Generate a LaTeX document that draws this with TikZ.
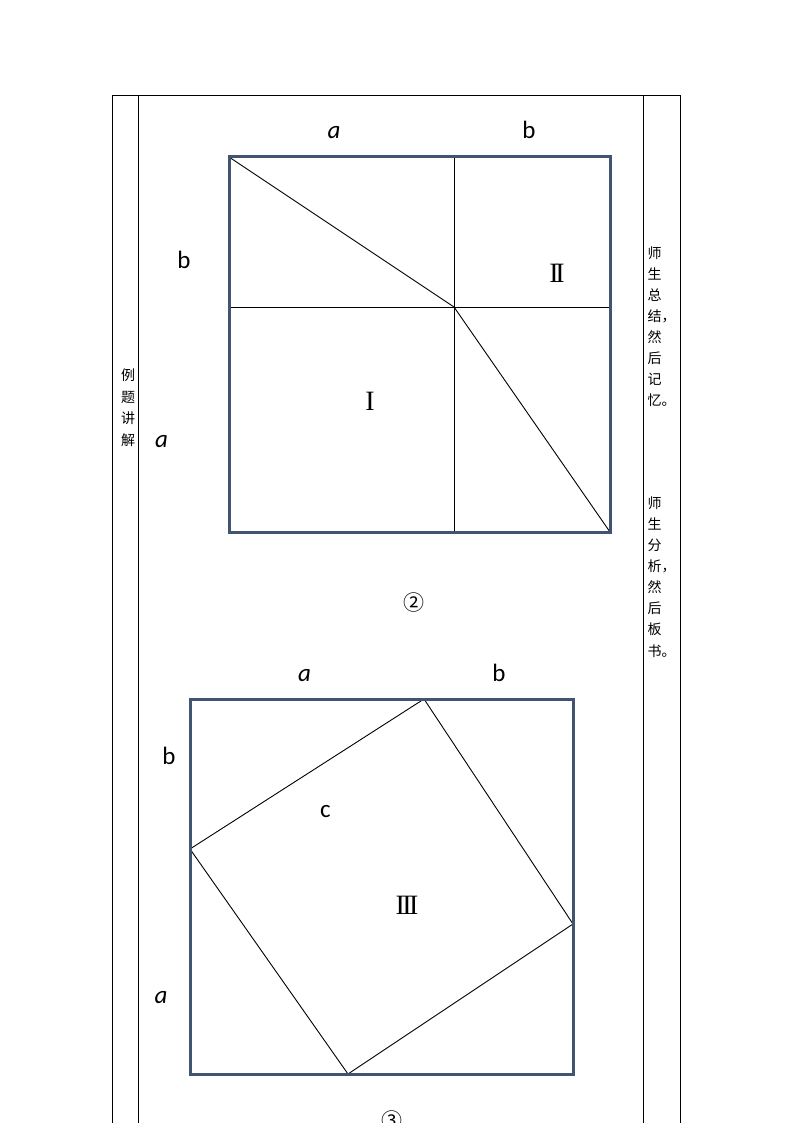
\documentclass[tikz,border=0pt]{standalone}
\usepackage{fontspec}
\setmainfont{Carlito}
\newfontfamily\cjk{Noto Sans CJK SC}
\newfontfamily\serifroman{Liberation Serif}
\definecolor{sqblue}{RGB}{65,84,112}
\tikzset{
  frameline/.style={line width=1pt, black},
  sqframe/.style={line width=3pt, sqblue},
  thinline/.style={line width=0.9pt, black},
  lbl/.style={font=\fontsize{25}{30}\selectfont, inner sep=0pt, anchor=base},
  romanlbl/.style={font=\serifroman\fontsize{28}{30}\selectfont, inner sep=0pt},
  cjkchar/.style={font=\cjk\fontsize{14}{16}\selectfont, inner sep=0pt},
  circnum/.style={font=\cjk\fontsize{21}{24}\selectfont, inner sep=0pt},
}
\begin{document}
\begin{tikzpicture}[x=1pt,y=-1pt]
\useasboundingbox (0,0) rectangle (794,1123);
% table frame
\coordinate (f1b) at (112,1124);
\coordinate (f1t) at (112,96);
\coordinate (f4t) at (680,96);
\coordinate (f4b) at (680,1124);
\coordinate (f2t) at (138.5,96);
\coordinate (f2b) at (138.5,1124);
\coordinate (f3t) at (643,96);
\coordinate (f3b) at (643,1124);
\draw[frameline] (f1b) -- (f1t) -- (f4t) -- (f4b);
\draw[frameline] (f2t) -- (f2b);
\draw[frameline] (f3t) -- (f3b);

% left column text
\foreach \c [count=\i from 0] in {例,题,讲,解}
  \node[cjkchar, anchor=base] (lc\i) at (128,{375+21.7*\i+5.3}) {\c};

% right column texts
\foreach \c [count=\i from 0] in {师,生,总,结，,然,后,记,忆。}
  \node[cjkchar, anchor=base west] (ra\i) at (647.5,{253+21*\i+5.3}) {\c};
\foreach \c [count=\i from 0] in {师,生,分,析，,然,后,板,书。}
  \node[cjkchar, anchor=base west] (rb\i) at (647.5,{503+21.1*\i+5.3}) {\c};

% ---------- figure 2 ----------
\coordinate (A1) at (229,157);
\coordinate (B1) at (610,157);
\coordinate (C1) at (610,532);
\coordinate (D1) at (229,532);
\coordinate (T1) at (454,157);
\coordinate (M1) at (454,532);
\coordinate (L1) at (229,307);
\coordinate (R1) at (610,307);
\coordinate (O1) at (454,307);
\draw[thinline] (T1) -- (M1);
\draw[thinline] (L1) -- (R1);
\draw[thinline] (A1) -- (O1) -- (C1);
\draw[sqframe] (A1) rectangle (C1);

\node[lbl] (a1top) at (334,139) {\textit{a}};
\node[lbl] (b1top) at (529,139) {b};
\node[lbl] (b1left) at (184,268) {b};
\node[lbl] (a1left) at (161.5,447) {\textit{a}};
\node[romanlbl] (r2) at (557,273.5) {I\kern-3.5pt I};
\node[romanlbl] (r1) at (370,401.5) {I};
\node[circnum] (n2) at (414,603) {②};

% ---------- figure 3 ----------
\coordinate (A2) at (190,699);
\coordinate (C2) at (573,1074);
\coordinate (P2) at (424,699);
\coordinate (Q2) at (573,924);
\coordinate (R2) at (348,1074);
\coordinate (S2) at (190,849);
\draw[thinline] (P2) -- (Q2) -- (R2) -- (S2) -- cycle;
\draw[sqframe] (A2) rectangle (C2);

\node[lbl] (a2top) at (304.5,681) {\textit{a}};
\node[lbl] (b2top) at (499,681) {b};
\node[lbl] (b2left) at (169,764) {b};
\node[lbl] (c2) at (325.5,817) {c};
\node[lbl] (a2left) at (161,1003) {\textit{a}};
\node[romanlbl] (r3) at (407,905.5) {I\kern-2.5pt I\kern-2.5pt I};
\node[circnum] (n3) at (392,1121) {③};
\end{tikzpicture}
\end{document}
